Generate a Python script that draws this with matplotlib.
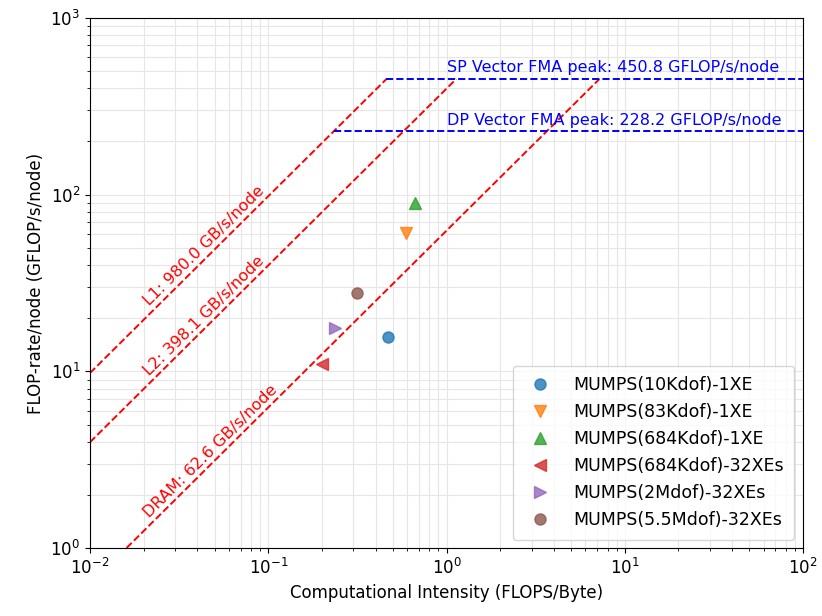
import matplotlib
matplotlib.use("Agg")
import matplotlib.pyplot as plt
import numpy as np

# Techos de memoria (GB/s/node) y picos de computo (GFLOP/s/node)
mem_nombres = ["L1", "L2", "DRAM"]
mem_bw = [980.0, 398.1, 62.6]
pico_nombres = ["SP Vector FMA peak", "DP Vector FMA peak"]
pico_valores = [450.8, 228.2]

# Mediciones MUMPS
etiquetas = ["MUMPS(10Kdof)-1XE", "MUMPS(83Kdof)-1XE", "MUMPS(684Kdof)-1XE",
             "MUMPS(684Kdof)-32XEs", "MUMPS(2Mdof)-32XEs", "MUMPS(5.5Mdof)-32XEs"]
intensidad = [0.47, 0.596, 0.665, 0.20, 0.237, 0.315]
flops = [15.6, 60.6, 89.6, 11.0, 17.6, 27.7]
marcadores = ["o", "v", "^", "<", ">", "o"]
colores = ["tab:blue", "tab:orange", "tab:green", "tab:red", "tab:purple", "tab:brown"]

fig = plt.figure(figsize=(8.22, 6.16), dpi=100)
ax = fig.add_axes([0.1095, 0.110, 0.8675, 0.861])
ax.set_xscale("log")
ax.set_yscale("log")
ax.set_xlim(1e-2, 1e2)
ax.set_ylim(1e0, 1e3)

pico_max = max(pico_valores)
x_min = 1e-2

# Lineas de ancho de banda hasta el pico SP
for nombre, bw in zip(mem_nombres, mem_bw):
    x_fin = pico_max / bw
    ax.plot([x_min, x_fin], [bw * x_min, pico_max], color="red", linestyle="--", linewidth=1.4)
    xt = 0.0222
    ax.text(xt, bw * xt * 1.04, f"{nombre}: {bw:.1f} GB/s/node", color="red", fontsize=11.5,
            rotation=44.7, rotation_mode="anchor", ha="left", va="bottom")

# Picos horizontales, desde la interseccion con L1
for nombre, pico in zip(pico_nombres, pico_valores):
    x_ini = pico / mem_bw[0]
    ax.plot([x_ini, 1e2], [pico, pico], color="blue", linestyle="--", linewidth=1.4)
    ax.text(1.0, pico * 1.05, f"{nombre}: {pico:.1f} GFLOP/s/node", color="blue", fontsize=11.5,
            ha="left", va="bottom")

for x, y, m, c, lab in zip(intensidad, flops, marcadores, colores, etiquetas):
    ax.plot([x], [y], marker=m, color=c, linestyle="none", markersize=8, alpha=0.8, label=lab)

ax.grid(True, which="both", color="#e6e6e6", linewidth=0.8)
ax.set_axisbelow(True)
ax.tick_params(labelsize=12)
ax.set_xlabel("Computational Intensity (FLOPS/Byte)", fontsize=12)
ax.set_ylabel("FLOP-rate/node (GFLOP/s/node)", fontsize=12)
ax.legend(loc="lower right", fontsize=12.5, borderpad=0.6, labelspacing=0.52, handletextpad=0.9)

fig.savefig("out.png", dpi=100)
